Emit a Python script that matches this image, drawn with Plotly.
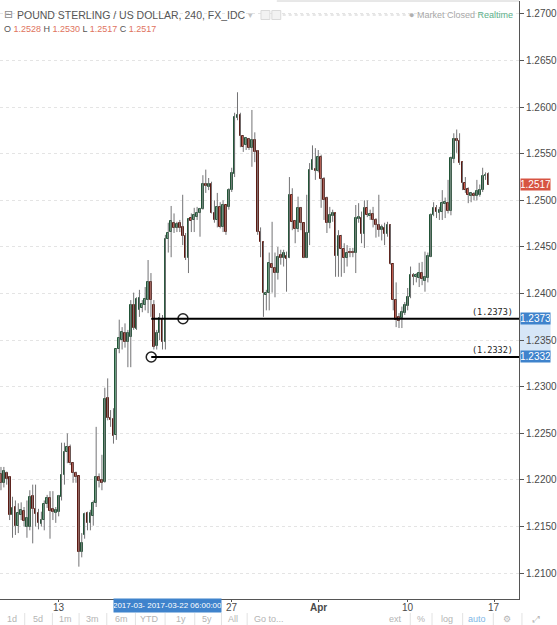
import plotly.graph_objects as go

# ---------------- data (GBP/USD, 240 min, FX_IDC) ----------------
opens = [1.2206,1.2197,1.2208,1.2203,1.2162,1.2171,1.2151,1.2162,1.2167,1.2150,
         1.2150,1.2183,1.2169,1.2165,1.2153,1.2157,1.2174,1.2181,1.2169,1.2165,
         1.2166,1.2182,1.2205,1.2230,1.2235,1.2218,1.2207,1.2204,1.2123,1.2141,
         1.2165,1.2154,1.2161,1.2175,1.2203,1.2200,1.2198,1.2288,1.2266,1.2265,
         1.2248,1.2340,1.2350,1.2358,1.2348,1.2353,1.2388,1.2362,1.2382,1.2385,
         1.2388,1.2393,1.2412,1.2388,1.2344,1.2358,1.2373,1.2348,1.2459,1.2466,
         1.2476,1.2470,1.2476,1.2471,1.2462,1.2438,1.2481,1.2479,1.2482,1.2486,
         1.2491,1.2518,1.2514,1.2518,1.2486,1.2479,1.2493,1.2471,1.2495,1.2493,
         1.2511,1.2528,1.2588,1.2592,1.2569,1.2559,1.2566,1.2556,1.2565,1.2553,
         1.2466,1.2455,1.2399,1.2401,1.2432,1.2427,1.2422,1.2441,1.2438,1.2440,
         1.2438,1.2506,1.2478,1.2469,1.2492,1.2476,1.2438,1.2465,1.2533,1.2534,
         1.2532,1.2547,1.2523,1.2503,1.2476,1.2483,1.2486,1.2440,1.2462,1.2448,
         1.2438,1.2445,1.2445,1.2444,1.2480,1.2481,1.2464,1.2492,1.2483,1.2485,
         1.2479,1.2474,1.2468,1.2470,1.2464,1.2474,1.2432,1.2393,1.2375,1.2374,
         1.2379,1.2387,1.2396,1.2420,1.2418,1.2417,1.2422,1.2414,1.2417,1.2439,
         1.2484,1.2492,1.2486,1.2488,1.2496,1.2497,1.2489,1.2544,1.2566,1.2564,
         1.2541,1.2519,1.2512,1.2505,1.2507,1.2505,1.2506,1.2511,1.2526,1.2528]
highs = [1.2214,1.2214,1.2209,1.2204,1.2182,1.2178,1.2175,1.2176,1.2171,1.2178,
         1.2189,1.2195,1.2195,1.2169,1.2166,1.2178,1.2184,1.2188,1.2188,1.2171,
         1.2184,1.2240,1.2240,1.2250,1.2238,1.2219,1.2209,1.2204,1.2143,1.2165,
         1.2166,1.2168,1.2178,1.2257,1.2207,1.2227,1.2299,1.2309,1.2275,1.2277,
         1.2341,1.2372,1.2364,1.2368,1.2361,1.2393,1.2401,1.2396,1.2404,1.2393,
         1.2407,1.2436,1.2422,1.2393,1.2361,1.2379,1.2377,1.2463,1.2476,1.2494,
         1.2486,1.2477,1.2479,1.2506,1.2465,1.2480,1.2486,1.2492,1.2493,1.2492,
         1.2527,1.2533,1.2524,1.2520,1.2500,1.2508,1.2498,1.2500,1.2495,1.2513,
         1.2535,1.2594,1.2616,1.2594,1.2570,1.2568,1.2567,1.2597,1.2573,1.2554,
         1.2471,1.2455,1.2404,1.2444,1.2477,1.2444,1.2450,1.2447,1.2447,1.2445,
         1.2525,1.2513,1.2479,1.2504,1.2493,1.2476,1.2506,1.2540,1.2559,1.2556,
         1.2554,1.2549,1.2525,1.2504,1.2493,1.2490,1.2486,1.2468,1.2463,1.2454,
         1.2452,1.2449,1.2449,1.2495,1.2497,1.2488,1.2500,1.2500,1.2490,1.2493,
         1.2481,1.2506,1.2474,1.2476,1.2477,1.2474,1.2432,1.2412,1.2379,1.2386,
         1.2391,1.2406,1.2429,1.2422,1.2422,1.2433,1.2434,1.2445,1.2444,1.2486,
         1.2498,1.2495,1.2493,1.2511,1.2503,1.2522,1.2547,1.2572,1.2576,1.2572,
         1.2541,1.2525,1.2514,1.2509,1.2509,1.2522,1.2517,1.2535,1.2530,1.2530]
lows = [1.2189,1.2192,1.2195,1.2157,1.2138,1.2141,1.2143,1.2157,1.2150,1.2138,
        1.2146,1.2132,1.2150,1.2147,1.2150,1.2146,1.2170,1.2137,1.2157,1.2154,
        1.2161,1.2178,1.2195,1.2218,1.2216,1.2197,1.2197,1.2107,1.2117,1.2137,
        1.2146,1.2146,1.2151,1.2171,1.2192,1.2189,1.2197,1.2264,1.2257,1.2239,
        1.2243,1.2336,1.2340,1.2342,1.2321,1.2321,1.2361,1.2361,1.2375,1.2380,
        1.2382,1.2379,1.2375,1.2340,1.2340,1.2350,1.2340,1.2340,1.2444,1.2439,
        1.2465,1.2466,1.2466,1.2452,1.2436,1.2422,1.2466,1.2466,1.2479,1.2461,
        1.2490,1.2508,1.2511,1.2486,1.2476,1.2471,1.2470,1.2466,1.2463,1.2490,
        1.2509,1.2525,1.2586,1.2557,1.2552,1.2554,1.2554,1.2536,1.2541,1.2463,
        1.2439,1.2375,1.2382,1.2382,1.2401,1.2396,1.2415,1.2431,1.2429,1.2402,
        1.2438,1.2468,1.2454,1.2466,1.2468,1.2438,1.2438,1.2452,1.2533,1.2522,
        1.2530,1.2492,1.2479,1.2465,1.2470,1.2477,1.2418,1.2418,1.2418,1.2422,
        1.2429,1.2439,1.2439,1.2422,1.2476,1.2454,1.2449,1.2482,1.2479,1.2471,
        1.2460,1.2461,1.2457,1.2452,1.2461,1.2431,1.2382,1.2364,1.2363,1.2363,
        1.2377,1.2382,1.2395,1.2409,1.2412,1.2407,1.2409,1.2402,1.2412,1.2439,
        1.2483,1.2481,1.2479,1.2479,1.2481,1.2486,1.2484,1.2540,1.2551,1.2538,
        1.2511,1.2508,1.2497,1.2498,1.2500,1.2500,1.2504,1.2509,1.2522,1.2517]
closes = [1.2197,1.2210,1.2201,1.2162,1.2170,1.2151,1.2165,1.2168,1.2156,1.2159,
          1.2182,1.2169,1.2163,1.2154,1.2157,1.2174,1.2181,1.2167,1.2166,1.2168,
          1.2183,1.2205,1.2230,1.2235,1.2218,1.2207,1.2203,1.2123,1.2132,1.2163,
          1.2154,1.2165,1.2175,1.2203,1.2199,1.2197,1.2287,1.2266,1.2264,1.2247,
          1.2340,1.2352,1.2359,1.2348,1.2358,1.2388,1.2363,1.2394,1.2395,1.2389,
          1.2394,1.2412,1.2393,1.2343,1.2358,1.2374,1.2348,1.2459,1.2465,1.2478,
          1.2470,1.2475,1.2470,1.2462,1.2438,1.2480,1.2478,1.2484,1.2486,1.2491,
          1.2518,1.2515,1.2518,1.2486,1.2479,1.2493,1.2471,1.2495,1.2466,1.2511,
          1.2529,1.2589,1.2592,1.2569,1.2557,1.2567,1.2556,1.2565,1.2552,1.2466,
          1.2455,1.2401,1.2401,1.2433,1.2427,1.2422,1.2439,1.2438,1.2443,1.2437,
          1.2506,1.2477,1.2469,1.2492,1.2476,1.2438,1.2465,1.2533,1.2543,1.2532,
          1.2547,1.2523,1.2500,1.2476,1.2484,1.2486,1.2440,1.2462,1.2448,1.2438,
          1.2444,1.2444,1.2443,1.2481,1.2482,1.2464,1.2492,1.2484,1.2485,1.2479,
          1.2474,1.2468,1.2471,1.2464,1.2474,1.2432,1.2393,1.2372,1.2371,1.2380,
          1.2388,1.2396,1.2420,1.2418,1.2420,1.2422,1.2416,1.2418,1.2440,1.2484,
          1.2492,1.2488,1.2490,1.2497,1.2498,1.2489,1.2545,1.2566,1.2564,1.2540,
          1.2519,1.2511,1.2506,1.2508,1.2505,1.2510,1.2511,1.2526,1.2527,1.2517]

date_ticks = [20, 80, 110, 141, 171]          # bar index of each date label
date_labels = ["13", "27", "<b>Apr</b>", "10", "17"]

levels = [1.2373, 1.2332]        # horizontal-line drawings
level_start = [52.1, 52.1]       # bar index where each line starts
level_handle = [63.1, 52.1]      # bar index of each line's handle circle

last_price = 1.2517

UP, UP_B = "#6ba583", "#225437"
DN, DN_B = "#d75442", "#5b1a13"
WICK = "#737375"
FONT = "Liberation Sans, Arial, sans-serif"

W, H = 557, 625
ML, MR, MT, MB = 0, 32, 1, 26
PW = W - ML - MR
PH = H - MT - MB


def px(x):
    return x / PW


def py(y):
    return (H - MB - y) / PH


n = len(opens)
idx = list(range(n))

wx, wy = [], []
for i in idx:
    wx += [i, i, None]
    wy += [highs[i], lows[i], None]

bases = [min(o, c) for o, c in zip(opens, closes)]
hts = [max(abs(c - o), 0.00003) for o, c in zip(opens, closes)]
fills = [UP if c >= o else DN for o, c in zip(opens, closes)]
borders = [UP_B if c >= o else DN_B for o, c in zip(opens, closes)]

fig = go.Figure()
fig.add_trace(go.Scatter(x=wx, y=wy, mode="lines", line=dict(color=WICK, width=1),
                         hoverinfo="skip", showlegend=False))
fig.add_trace(go.Bar(x=idx, y=hts, base=bases, width=0.6,
                     marker=dict(color=fills, line=dict(color=borders, width=1)),
                     hoverinfo="skip", showlegend=False))

# horizontal line drawings
for lv, xs, xh in zip(levels, level_start, level_handle):
    fig.add_shape(type="line", xref="x", yref="y", x0=xs, x1=179.6, y0=lv, y1=lv,
                  line=dict(color="#000000", width=2))
fig.add_trace(go.Scatter(x=level_handle, y=levels, mode="markers",
                         marker=dict(size=10, color="white",
                                     line=dict(color="#222222", width=1.5)),
                         hoverinfo="skip", showlegend=False))

ann = []
for lv in levels:
    ann.append(dict(xref="paper", yref="y", x=px(521), y=lv, xanchor="right",
                    yanchor="bottom", text="(%.4f)" % lv, showarrow=False,
                    font=dict(family="DejaVu Sans Mono, monospace", size=8.5, color="#222")))

# price-axis band + tags
fig.add_shape(type="rect", xref="paper", yref="y", x0=1.0, x1=1 + MR / PW,
              y0=levels[1], y1=levels[0], fillcolor="#d6e6f7", line_width=0, layer="below")
for lv, col in [(last_price, "#d75442"), (levels[0], "#3f83cc"), (levels[1], "#3f83cc")]:
    ann.append(dict(xref="paper", yref="y", x=1.0 + 1 / PW, y=lv, xanchor="left",
                    yanchor="middle", text="%.4f" % lv, showarrow=False, bgcolor=col,
                    width=29, height=11, borderpad=0,
                    font=dict(family=FONT, size=10, color="white")))

# date labels along the time axis
for t, lab in zip(date_ticks, date_labels):
    ann.append(dict(xref="x", yref="paper", x=t, y=py(607), xanchor="center",
                    yanchor="middle", showarrow=False, text=lab,
                    font=dict(family=FONT, size=10, color="#4a4a4a")))

# header
ann.append(dict(xref="paper", yref="paper", x=px(2), y=py(15), xanchor="left",
                yanchor="middle", showarrow=False, text="⊟",
                font=dict(family="DejaVu Sans", size=11, color="#8a8a8a")))
ann.append(dict(xref="paper", yref="paper", x=px(15), y=py(15), xanchor="left",
                yanchor="middle", showarrow=False,
                text="POUND STERLING / US DOLLAR, 240, FX_IDC",
                font=dict(family=FONT, size=10.5, color="#555555")))
ann.append(dict(xref="paper", yref="paper", x=px(253), y=py(15), xanchor="center",
                yanchor="middle", showarrow=False, text="▾",
                font=dict(family="DejaVu Sans", size=9, color="#c4c4c4")))
red = "#e0735e"
ohlc = ("O <span style='color:%s'>1.2528</span> H <span style='color:%s'>1.2530</span> "
        "L <span style='color:%s'>1.2517</span> C <span style='color:%s'>1.2517</span>") % (red, red, red, red)
ann.append(dict(xref="paper", yref="paper", x=px(2), y=py(28.5), xanchor="left",
                yanchor="middle", showarrow=False, text=ohlc,
                font=dict(family=FONT, size=9, color="#555555")))
ann.append(dict(xref="paper", yref="paper", x=px(521), y=py(15), xanchor="right",
                yanchor="middle", showarrow=False,
                text="<span style='color:#b0b0b0'>●</span> Market Closed <span style='color:#5cb08a'>Realtime</span>",
                font=dict(family=FONT, size=9, color="#a8a8a8")))
fig.add_shape(type="line", xref="paper", yref="paper", x0=px(286), x1=px(420),
              y0=py(15), y1=py(15), line=dict(color="#cfcfcf", width=1, dash="dot"))
for x0 in (264, 275):
    fig.add_shape(type="rect", xref="paper", yref="paper", x0=px(x0), x1=px(x0 + 9),
                  y0=py(19.5), y1=py(10.5), line=dict(color="#dadada", width=1), fillcolor="#f2f2f2")
fig.add_shape(type="line", xref="paper", yref="paper", x0=px(280), x1=1.0,
              y0=1.0, y1=1.0, line=dict(color="#d0d0d0", width=1))

# crosshair date label
ann.append(dict(xref="paper", yref="paper", x=px(169), y=py(605), xanchor="center",
                yanchor="middle", showarrow=False, text="2017-03- 2017-03-22 06:00:00",
                bgcolor="#3f83cc", width=107, height=13, borderpad=0,
                font=dict(family=FONT, size=8, color="white")))

# bottom toolbar
tb = [("1d", 12), ("5d", 38), ("1m", 66), ("3m", 94), ("6m", 123), ("YTD", 151),
      ("1y", 183), ("5y", 209), ("All", 236), ("Go to...", 272),
      ("ext", 400), ("%", 426), ("log", 452), ("⚙", 513), ("⤢", 542)]
for t, x in tb:
    ann.append(dict(xref="paper", yref="paper", x=px(x), y=py(619), xanchor="center",
                    yanchor="middle", showarrow=False, text=t,
                    font=dict(family=FONT, size=9, color="#b4b4b4")))
ann.append(dict(xref="paper", yref="paper", x=px(483), y=py(619), xanchor="center",
                yanchor="middle", showarrow=False, text="auto",
                font=dict(family=FONT, size=9, color="#7fb6e6")))
for x in (25, 53, 80, 108, 137, 167, 197, 224, 250, 415, 437, 468, 499, 528):
    fig.add_shape(type="line", xref="paper", yref="paper", x0=px(x), x1=px(x),
                  y0=py(613), y1=py(625), line=dict(color="#e2e2e2", width=1))

fig.update_layout(
    width=W, height=H, margin=dict(l=ML, r=MR, t=MT, b=MB),
    paper_bgcolor="white", plot_bgcolor="white", showlegend=False,
    bargap=0, annotations=ann,
    font=dict(family=FONT, size=10, color="#4a4a4a"),
    xaxis=dict(range=[-0.34, 179.6], tickvals=date_ticks, showticklabels=False,
               showgrid=False, zeroline=False, showline=True, linecolor="#555555",
               linewidth=1, ticks="outside", ticklen=2, tickcolor="#555555",
               fixedrange=True),
    yaxis=dict(side="right", range=[1.20723, 1.27139], tick0=1.21, dtick=0.005,
               tickformat=".4f", showgrid=True, gridcolor="#e4e4e4", griddash="dot",
               zeroline=False, showline=True, linecolor="#555555", linewidth=1,
               ticks="outside", ticklen=4, tickcolor="#555555",
               tickfont=dict(size=10, color="#4a4a4a", family=FONT)),
)

fig.write_html("out.html")
